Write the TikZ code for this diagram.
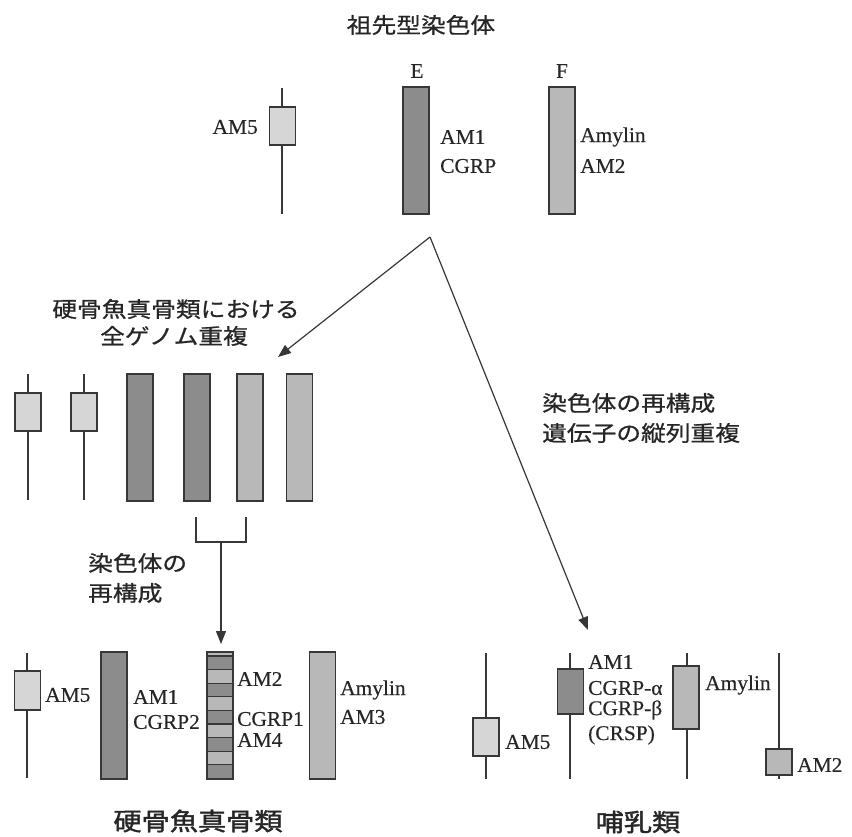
\documentclass[tikz,border=0pt]{standalone}
\usepackage{fontspec}
\setmainfont[FakeStretch=1.02, FakeBold=0.3]{Liberation Serif}
\newfontfamily\cjk[FakeStretch=1.15, FakeBold=0.8]{Noto Sans CJK JP}
\newfontfamily\cjkb[FakeStretch=1.15, FakeBold=1.6]{Noto Sans CJK JP}
\usetikzlibrary{arrows.meta}
\definecolor{darkg}{RGB}{140,140,140}
\definecolor{lightg}{RGB}{184,184,184}
\definecolor{paleg}{RGB}{214,214,214}
\definecolor{edge}{RGB}{55,55,55}
\tikzset{
  bar/.style={draw=edge, line width=1.3pt, inner sep=0pt, outer sep=0pt, minimum width=26, rectangle},
  darkbar/.style={bar, fill=darkg},
  lightbar/.style={bar, fill=lightg},
  palebox/.style={bar, fill=paleg},
  stick/.style={draw=edge, line width=1.5pt},
  lab/.style={font=\fontsize{21}{24}\selectfont, inner sep=0pt, anchor=west, text=black!85},
  jp/.style={font=\cjk\fontsize{21.5}{26}\selectfont, inner sep=0pt, text=black!85},
  jpbig/.style={font=\cjkb\fontsize{24.5}{28}\selectfont, inner sep=0pt, text=black!85},
  conn/.style={draw=edge, line width=1.2pt},
  arr/.style={conn, -{Triangle[length=13pt, width=10pt]}},
}
\begin{document}
\begin{tikzpicture}[x=1pt, y=-1pt]
\useasboundingbox (0,0) rectangle (852,837);

% ---------- ancestral ----------
\node[jp] (title) at (421,25) {祖先型染色体};
\coordinate (t5top) at (282,88);
\coordinate (t5bot) at (282,214);
\draw[stick] (t5top) -- (t5bot);
\node[palebox, minimum height=38] (t5) at (282.5,126) {};
\node[lab, anchor=east] (t5l) at (258,127) {AM5};

\node[darkbar, minimum height=127] (E) at (416,150.5) {};
\node[lab, anchor=center] (El) at (417,71) {E};
\node[lab] (Ea) at (440,137) {AM1};
\node[lab] (Eb) at (440,166) {CGRP};

\node[lightbar, minimum height=127] (F) at (562,150.5) {};
\node[lab, anchor=center] (Fl) at (562,71) {F};
\node[lab] (Fa) at (580,137) {Amylin};
\node[lab] (Fb) at (580,166) {AM2};

\coordinate (apex) at (430,237);
\coordinate (tipL) at (278,357);
\coordinate (tipR) at (588,630);
\draw[arr] (apex) -- (tipL);
\draw[arr] (apex) -- (tipR);

% ---------- whole genome duplication ----------
\node[jp] (wgd1) at (176,309) {硬骨魚真骨類における};
\node[jp] (wgd2) at (174,336) {全ゲノム重複};

\node[jp, anchor=west] (rr1) at (542,403) {染色体の再構成};
\node[jp, anchor=west] (rr2) at (542,433) {遺伝子の縦列重複};

\coordinate (m1t) at (28,374); \coordinate (m1b) at (28,500);
\coordinate (m2t) at (84,374); \coordinate (m2b) at (84,500);
\draw[stick] (m1t) -- (m1b);
\draw[stick] (m2t) -- (m2b);
\node[palebox, minimum height=38] (m1) at (28,412) {};
\node[palebox, minimum height=38] (m2) at (84,412) {};
\node[darkbar, minimum height=127] (m3) at (140,437.5) {};
\node[darkbar, minimum height=127] (m4) at (197,437.5) {};
\node[lightbar, minimum height=127] (m5) at (250,437.5) {};
\node[lightbar, minimum height=127] (m6) at (299.5,437.5) {};

\coordinate (brL) at (196,517);
\coordinate (brR) at (246,517);
\coordinate (brM) at (221,542);
\draw[conn] (brL) |- (brM) -| (brR);
\coordinate (tipM) at (221,644);
\draw[arr] (brM) -- (tipM);
\node[jp, anchor=west] (re1) at (88,563) {染色体の};
\node[jp, anchor=west] (re2) at (88,593) {再構成};

% ---------- teleosts ----------
\coordinate (f1t) at (27,653); \coordinate (f1b) at (27,778);
\draw[stick] (f1t) -- (f1b);
\node[palebox, minimum height=39] (f1) at (27.5,690.5) {};
\node[lab] (f1l) at (45,695) {AM5};

\node[darkbar, minimum height=127] (f2) at (114,715.5) {};
\node[lab] (f2a) at (133,697) {AM1};
\node[lab] (f2b) at (133,722) {CGRP2};

% striped bar
\begin{scope}
  \fill[lightg] (207,652) rectangle (233,656);
  \foreach \i in {0,...,8} {
    \pgfmathsetmacro{\ya}{656+\i*13.6}
    \pgfmathsetmacro{\yb}{\ya+13.6}
    \pgfmathparse{mod(\i,2)==0 ? 1 : 0}
    \ifnum\pgfmathresult=1
      \fill[darkg] (207,\ya) rectangle (233,\yb);
    \else
      \fill[lightg] (207,\ya) rectangle (233,\yb);
    \fi
    \draw[edge, line width=1.1pt] (207,\ya) -- (233,\ya);
  }
\end{scope}
\node[bar, minimum height=127] (f3) at (220,715.5) {};
\node[lab] (f3a) at (237,679) {AM2};
\node[lab] (f3b) at (237,719) {CGRP1};
\node[lab] (f3c) at (237,740) {AM4};

\node[lightbar, minimum height=127] (f4) at (322.5,715.5) {};
\node[lab] (f4a) at (340,690) {Amylin};
\node[lab] (f4b) at (340,717) {AM3};

\node[jpbig] (teleo) at (198,821) {硬骨魚真骨類};

% ---------- mammals ----------
\coordinate (p1t) at (486,653); \coordinate (p1b) at (486,779);
\draw[stick] (p1t) -- (p1b);
\node[palebox, minimum height=38] (p1) at (486,737) {};
\node[lab] (p1l) at (505,742) {AM5};

\coordinate (p2t) at (570,653); \coordinate (p2b) at (570,779);
\draw[stick] (p2t) -- (p2b);
\node[darkbar, minimum height=45] (p2) at (570.5,691.5) {};
\node[lab] (p2a) at (588,662) {AM1};
\node[lab] (p2b) at (588,688) {CGRP-α};
\node[lab] (p2c) at (588,710) {CGRP-β};
\node[lab] (p2d) at (588,735) {(CRSP)};

\coordinate (p3t) at (687,653); \coordinate (p3b) at (687,779);
\draw[stick] (p3t) -- (p3b);
\node[lightbar, minimum height=63] (p3) at (686,697.5) {};
\node[lab] (p3l) at (705,685) {Amylin};

\coordinate (p4t) at (779,653); \coordinate (p4b) at (779,779);
\draw[stick] (p4t) -- (p4b);
\node[lightbar, minimum height=26] (p4) at (779,762) {};
\node[lab] (p4l) at (797,765) {AM2};

\node[jpbig] (mamm) at (638,822) {哺乳類};
\end{tikzpicture}
\end{document}
